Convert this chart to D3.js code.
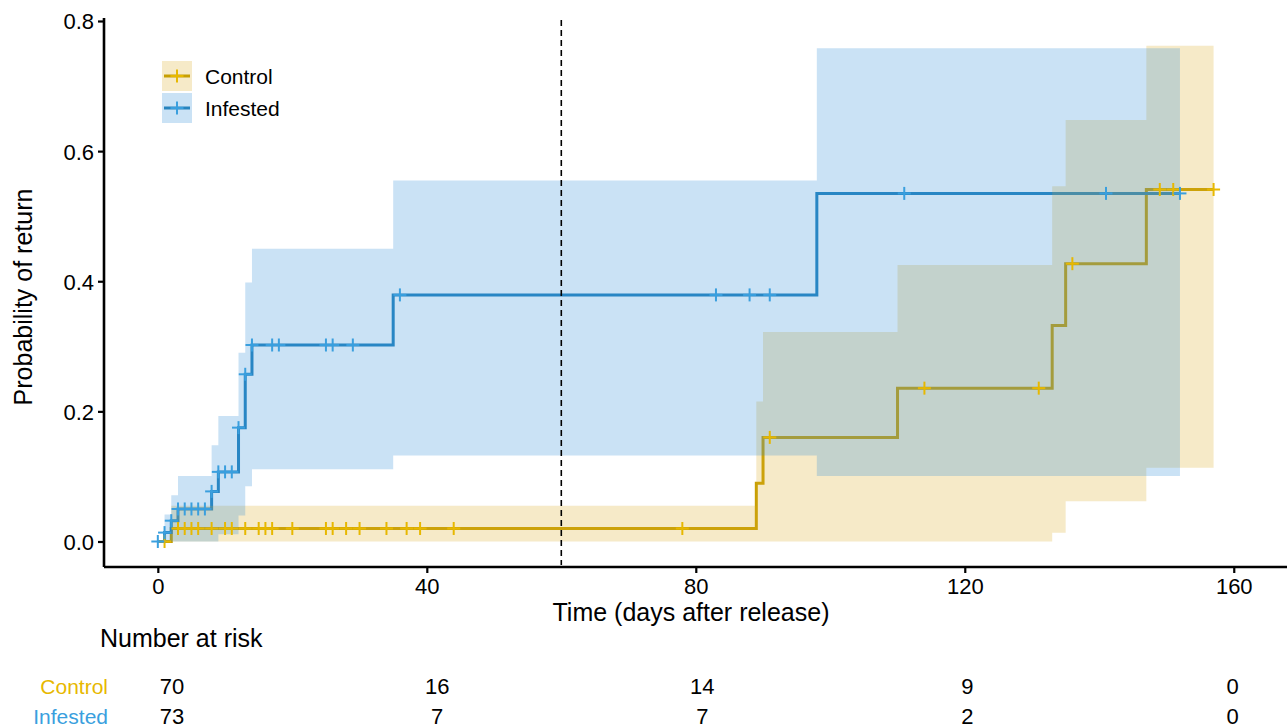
<!DOCTYPE html>
<html>
<head>
<meta charset="utf-8">
<script src="https://cdn.jsdelivr.net/npm/d3@7"></script>
<style>
  html, body { margin: 0; padding: 0; background: #ffffff; }
  svg { display: block; font-family: "Liberation Sans", Arial, Helvetica, sans-serif; }
</style>
</head>
<body>
<svg id="chart" width="1287" height="728"></svg>
<script>
// Cumulative probability of return (1 - KM) with 95% confidence band
// Control group: step starts, estimate, lower and upper bounds
const ctrlTime  = [0, 2, 89, 90, 110, 133, 135, 147];
const ctrlEst   = [0, 0.020, 0.0895, 0.160, 0.2357, 0.332, 0.427, 0.541];
const ctrlLower = [0, 0, 0, 0, 0, 0.0135, 0.062, 0.1135];
const ctrlUpper = [0, 0.055, 0.215, 0.322, 0.425, 0.546, 0.648, 0.762];
const ctrlEnd   = 157;
const ctrlCensor = [1, 3, 4, 5, 6, 8, 10, 11, 13, 15, 16, 17, 20, 25, 26, 28, 30, 34, 37, 39, 44, 78, 91, 114, 131, 136, 149, 151, 157];

// Infested group
const infTime  = [0, 1, 2, 3, 8, 9, 12, 13, 14, 35, 98];
const infEst   = [0, 0.0137, 0.032, 0.050, 0.077, 0.107, 0.175, 0.257, 0.302, 0.379, 0.535];
const infLower = [0, 0, 0, 0, 0, 0.011, 0.040, 0.085, 0.111, 0.132, 0.1005];
const infUpper = [0, 0.0415, 0.071, 0.1005, 0.148, 0.193, 0.290, 0.398, 0.450, 0.555, 0.758];
const infEnd   = 152;
const infCensor = [0, 1, 2, 3, 4, 5, 6, 7, 8, 9, 10, 11, 12, 13, 14, 17, 18, 25, 26, 29, 36, 83, 88, 91, 111, 141, 152];

// Axis ticks and the number-at-risk table
const xTicks = [0, 40, 80, 120, 160];
const yTicks = [0, 0.2, 0.4, 0.6, 0.8];
const riskTimes = [0, 40, 80, 120, 160];
const riskControl  = [70, 16, 14, 9, 0];
const riskInfested = [73, 7, 7, 2, 0];
const cutoffDay = 60;

const groups = [
  { name: "Control",  time: ctrlTime, est: ctrlEst, lower: ctrlLower, upper: ctrlUpper, end: ctrlEnd, censor: ctrlCensor,
    line: "#C79F02", mark: "#E7B800", band: "#DDAA22", label: "#E7B800", risk: riskControl },
  { name: "Infested", time: infTime,  est: infEst,  lower: infLower,  upper: infUpper,  end: infEnd,  censor: infCensor,
    line: "#2784BE", mark: "#3A9FDE", band: "#2A8AD8", label: "#3A9FDE", risk: riskInfested }
];

const svg = d3.select("#chart");
const x = d3.scaleLinear().domain([-7.9, 168.2]).range([104.7, 1288.9]);
const y = d3.scaleLinear().domain([-0.0392, 0.8046]).range([567, 18]);
const xRisk = d3.scaleLinear().domain([-7.9, 168.2]).range([119.6, 1287]);

// Build step rows for each group, closed at the last follow-up time
groups.forEach(g => {
  g.rows = g.time.map((t, i) => ({ t, est: g.est[i], lo: g.lower[i], hi: g.upper[i] }));
  const last = g.rows[g.rows.length - 1];
  g.rows.push({ t: g.end, est: last.est, lo: last.lo, hi: last.hi });
  g.valueAt = t => {
    let v = 0;
    g.rows.forEach(r => { if (r.t <= t) v = r.est; });
    return v;
  };
});

const lineGen = d3.line().x(d => x(d.t)).y(d => y(d.est)).curve(d3.curveStepAfter);
const areaGen = d3.area().x(d => x(d.t)).y0(d => y(d.lo)).y1(d => y(d.hi)).curve(d3.curveStepAfter);

// Curves first, translucent bands over them, censor marks on top
const plot = svg.append("g");
groups.forEach(g => {
  plot.append("path").datum(g.rows).attr("d", lineGen)
    .attr("fill", "none").attr("stroke", g.line).attr("stroke-width", 3)
    .attr("stroke-linejoin", "miter");
});
groups.forEach(g => {
  plot.append("path").datum(g.rows).attr("d", areaGen)
    .attr("fill", g.band).attr("fill-opacity", 0.25).attr("stroke", "none");
});
const cross = 6.5;
groups.forEach(g => {
  const marks = plot.append("g").attr("stroke", g.mark).attr("stroke-width", 2);
  g.censor.forEach(t => {
    const cx = x(t), cy = y(g.valueAt(t));
    marks.append("line").attr("x1", cx - cross).attr("x2", cx + cross).attr("y1", cy).attr("y2", cy);
    marks.append("line").attr("x1", cx).attr("x2", cx).attr("y1", cy - cross).attr("y2", cy + cross);
  });
});

// Reference line at day 60
svg.append("line")
  .attr("x1", x(cutoffDay)).attr("x2", x(cutoffDay))
  .attr("y1", 20).attr("y2", 565)
  .attr("stroke", "#000").attr("stroke-width", 1.6).attr("stroke-dasharray", "6,4");

// Axes
const xAxis = svg.append("g").attr("transform", "translate(0,567)")
  .call(d3.axisBottom(x).tickValues(xTicks).tickFormat(d3.format("d")).tickSizeOuter(0).tickSize(6).tickPadding(5));
const yAxis = svg.append("g").attr("transform", "translate(104,0)")
  .call(d3.axisLeft(y).tickValues(yTicks).tickFormat(d3.format(".1f")).tickSizeOuter(0).tickSize(6).tickPadding(4));
[xAxis, yAxis].forEach(a => {
  a.select(".domain").attr("stroke", "#000").attr("stroke-width", 2.6);
  a.selectAll(".tick line").attr("stroke", "#000").attr("stroke-width", 2.2);
  a.selectAll(".tick text").attr("fill", "#000").attr("font-size", 22)
    .attr("font-family", "'Liberation Sans', Arial, sans-serif");
});
xAxis.select(".domain").attr("d", "M104,0H1287");
yAxis.select(".domain").attr("d", "M0,18V567");
xAxis.selectAll(".tick text").attr("dy", null).attr("y", 27);
yAxis.selectAll(".tick text").attr("dy", "0.36em");

// Axis titles
svg.append("text").attr("x", 691).attr("y", 621).attr("text-anchor", "middle")
  .attr("font-size", 25).attr("fill", "#000").text("Time (days after release)");
svg.append("text").attr("transform", "translate(32,297) rotate(-90)").attr("text-anchor", "middle")
  .attr("font-size", 25).attr("fill", "#000").text("Probability of return");

// Legend
const legend = svg.append("g");
groups.forEach((g, i) => {
  const top = 61 + i * 32;
  const cy = top + 15;
  legend.append("rect").attr("x", 162).attr("y", top).attr("width", 30).attr("height", 30)
    .attr("fill", g.band).attr("fill-opacity", 0.25);
  legend.append("line").attr("x1", 164).attr("x2", 190).attr("y1", cy).attr("y2", cy)
    .attr("stroke", g.line).attr("stroke-width", 3);
  legend.append("line").attr("x1", 177 - cross).attr("x2", 177 + cross).attr("y1", cy).attr("y2", cy)
    .attr("stroke", g.mark).attr("stroke-width", 2);
  legend.append("line").attr("x1", 177).attr("x2", 177).attr("y1", cy - cross).attr("y2", cy + cross)
    .attr("stroke", g.mark).attr("stroke-width", 2);
  legend.append("text").attr("x", 205).attr("y", cy + 7.5).attr("font-size", 21).attr("fill", "#000").text(g.name);
});

// Number-at-risk table
svg.append("text").attr("x", 100).attr("y", 647).attr("font-size", 25).attr("fill", "#000").text("Number at risk");
groups.forEach((g, i) => {
  const base = 694 + i * 30;
  svg.append("text").attr("x", 108).attr("y", base).attr("text-anchor", "end")
    .attr("font-size", 21).attr("fill", g.label).text(g.name);
  riskTimes.forEach((t, j) => {
    svg.append("text").attr("x", xRisk(t)).attr("y", base).attr("text-anchor", "middle")
      .attr("font-size", 22).attr("fill", "#000").text(g.risk[j]);
  });
});
</script>
</body>
</html>
